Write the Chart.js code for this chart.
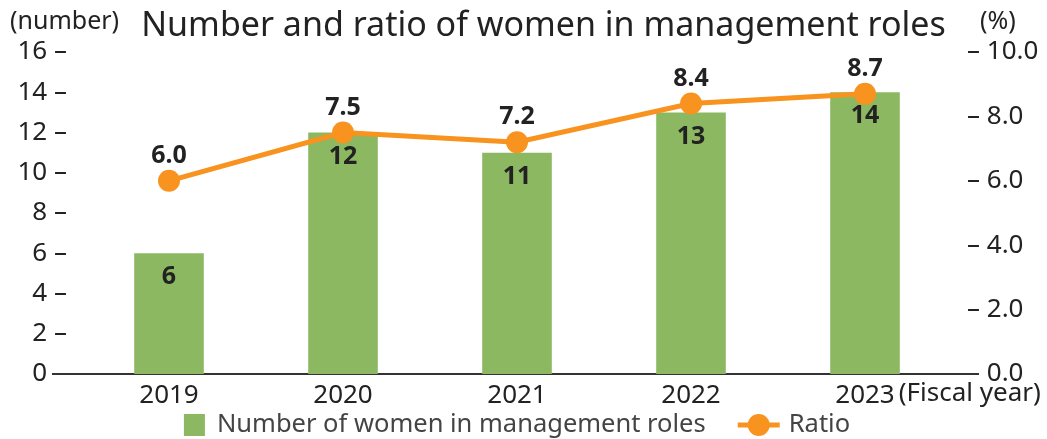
<!DOCTYPE html>
<html>
<head>
<meta charset="utf-8">
<script src="https://cdn.jsdelivr.net/npm/chart.js@4.4.0/dist/chart.umd.min.js"></script>
<style>
  html, body { margin: 0; padding: 0; background: #fff; }
  #wrap { width: 1047px; height: 439px; }
</style>
</head>
<body>
<div id="wrap"><canvas id="chart"></canvas></div>
<script>
const years = ["2019", "2020", "2021", "2022", "2023"];
const womenCount = [6, 12, 11, 13, 14];
const womenRatio = [6.0, 7.5, 7.2, 8.4, 8.7];

const GREEN = "#8cb862";
const ORANGE = "#f7931e";
const FONT = "'Noto Sans', 'Open Sans', sans-serif";

const extras = {
  id: "extras",
  beforeDatasetsDraw(chart) {
    const ctx = chart.ctx, a = chart.chartArea;
    ctx.save();
    ctx.strokeStyle = "#333";
    ctx.lineWidth = 2;
    ctx.beginPath();
    ctx.moveTo(a.left - 30, a.bottom);
    ctx.lineTo(a.right + 27, a.bottom);
    ctx.stroke();
    ctx.restore();
  },
  afterDatasetsDraw(chart) {
    const ctx = chart.ctx, a = chart.chartArea;
    ctx.save();
    ctx.fillStyle = "#222";
    ctx.textAlign = "center";
    ctx.textBaseline = "middle";
    ctx.font = "bold 25px " + FONT;
    chart.getDatasetMeta(0).data.forEach((bar, i) => ctx.fillText(String(womenCount[i]), bar.x, bar.y + 24));
    chart.getDatasetMeta(1).data.forEach((pt, i) => ctx.fillText(womenRatio[i].toFixed(1), pt.x, pt.y - 25));

    // title and units
    ctx.font = "34px " + FONT;
    ctx.fillText("Number and ratio of women in management roles", chart.width / 2 + 20, 26);
    ctx.font = "25px " + FONT;
    ctx.textAlign = "left";
    ctx.fillText("(number)", 10, a.top - 30);
    ctx.fillText("(%)", a.right + 28, a.top - 30);

    // unit after the last year
    const xs = chart.scales.x;
    ctx.font = "26px " + FONT;
    const last = xs.getPixelForTick(years.length - 1) + ctx.measureText(years[years.length - 1]).width / 2 + 4;
    ctx.fillText("(Fiscal year)", last, a.bottom + 20);

    // legend
    const ds = chart.data.datasets;
    ctx.font = "25.5px " + FONT;
    ctx.fillStyle = "#444";
    const w1 = ctx.measureText(ds[0].label).width, w2 = ctx.measureText(ds[1].label).width;
    const total = 21 + 12 + w1 + 32 + 42 + 9 + w2;
    let x = (a.left + a.right) / 2 - total / 2;
    const y = a.bottom + 51;
    ctx.fillStyle = GREEN;
    ctx.fillRect(x, y - 11, 21, 22);
    x += 33;
    ctx.fillStyle = "#444";
    ctx.fillText(ds[0].label, x, y);
    x += w1 + 32;
    ctx.strokeStyle = ORANGE;
    ctx.lineWidth = 5;
    ctx.beginPath(); ctx.moveTo(x, y); ctx.lineTo(x + 42, y); ctx.stroke();
    ctx.fillStyle = ORANGE;
    ctx.beginPath(); ctx.arc(x + 21, y, 11, 0, Math.PI * 2); ctx.fill();
    x += 51;
    ctx.fillStyle = "#444";
    ctx.fillText(ds[1].label, x, y);
    ctx.restore();
  }
};

new Chart(document.getElementById("chart"), {
  data: {
    labels: years,
    datasets: [
      {
        type: "bar",
        label: "Number of women in management roles",
        data: womenCount,
        backgroundColor: GREEN,
        yAxisID: "y",
        order: 1,
        categoryPercentage: 0.8,
        barPercentage: 0.5
      },
      {
        type: "line",
        label: "Ratio",
        data: womenRatio,
        borderColor: ORANGE,
        backgroundColor: ORANGE,
        borderWidth: 5,
        pointRadius: 11,
        pointBorderWidth: 0,
        pointBackgroundColor: ORANGE,
        yAxisID: "y1",
        order: 0
      }
    ]
  },
  options: {
    responsive: true,
    maintainAspectRatio: false,
    animation: false,
    layout: { padding: { top: 52, left: 0, right: 0, bottom: 28 } },
    plugins: {
      tooltip: { enabled: false },
      legend: { display: false }
    },
    scales: {
      x: {
        grid: { display: false, drawTicks: false },
        border: { display: false },
        ticks: { color: "#222", font: { family: FONT, size: 26 }, padding: 6 },
        afterFit(s) { s.height = 37; }
      },
      y: {
        position: "left",
        min: 0, max: 16,
        grid: { display: false, drawTicks: false },
        border: { display: false },
        ticks: { stepSize: 2, color: "#222", font: { family: FONT, size: 26 }, padding: 15,
          callback: v => v + " \u2013" },
        afterFit(s) { s.width = 82; }
      },
      y1: {
        position: "right",
        min: 0, max: 10,
        grid: { display: false, drawTicks: false },
        border: { display: false },
        ticks: { stepSize: 2, color: "#222", font: { family: FONT, size: 26 }, padding: 15,
          callback: v => "\u2013 " + v.toFixed(1) },
        afterFit(s) { s.width = 95; }
      }
    }
  },
  plugins: [extras]
});
</script>
</body>
</html>
